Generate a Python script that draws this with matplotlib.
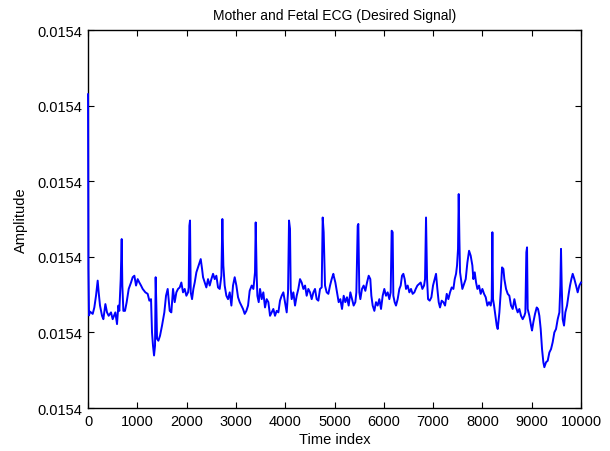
import matplotlib
matplotlib.use("Agg")
import matplotlib.pyplot as plt
from matplotlib.ticker import FixedLocator, FuncFormatter

# Time index of read-off points
time_index = [
    0, 8, 20, 40, 95, 128, 162, 196, 216, 243, 284, 311, 352, 385, 419, 466, 500, 554, 588, 615,
    635, 663, 683, 696, 717, 750, 784, 825, 872, 906, 940, 974, 1007, 1041, 1075, 1109, 1163, 1210,
    1244, 1278, 1298, 1318, 1339, 1359, 1372, 1386, 1400, 1427, 1460, 1501, 1548, 1582, 1616,
    1657, 1690, 1724, 1758, 1792, 1826, 1860, 1893, 1927, 1961, 1995, 2029, 2042, 2056, 2069, 2083,
    2110, 2137, 2164, 2198, 2231, 2265, 2286, 2313, 2333, 2367, 2400, 2434, 2468, 2502, 2536, 2570,
    2603, 2637, 2671, 2705, 2725, 2745, 2772, 2806, 2840, 2874, 2908, 2941, 2975, 3009, 3043, 3077,
    3110, 3144, 3178, 3212, 3246, 3279,
    3320, 3354, 3387, 3401, 3421, 3435, 3462, 3489, 3523, 3556, 3590, 3624, 3658, 3692, 3725, 3759,
    3793, 3827, 3861, 3894, 3928, 3962, 3996, 4030, 4057, 4077, 4097, 4111, 4131, 4165, 4199, 4233,
    4266, 4300, 4334, 4368, 4402, 4435, 4469, 4503, 4537, 4571, 4604, 4638, 4672, 4706, 4740, 4760,
    4780, 4807, 4841, 4875, 4909, 4942, 4976,
    4983, 5017, 5050, 5084, 5118, 5152, 5186, 5219, 5253, 5287, 5321, 5355, 5388, 5422, 5443, 5470,
    5483, 5503, 5524, 5557, 5591, 5625, 5659, 5693, 5726, 5747, 5774, 5808, 5841, 5875, 5909, 5943,
    5977, 6010, 6044, 6078, 6112, 6139, 6159, 6179, 6193, 6220, 6247, 6281, 6315, 6342, 6369, 6396,
    6423, 6450, 6484, 6518, 6551, 6585, 6619,
    6647, 6681, 6714, 6748, 6782, 6816, 6836, 6856, 6877, 6897, 6931, 6965, 6998, 7032, 7059, 7086,
    7113, 7140, 7174, 7208, 7242, 7276, 7309, 7343, 7377, 7411, 7438, 7465, 7485, 7505, 7519, 7533,
    7546, 7566, 7593, 7627, 7661, 7695, 7729, 7762, 7796, 7816, 7844, 7871, 7898, 7931, 7965, 7999,
    8033, 8067, 8100, 8134, 8168, 8188, 8202, 8215, 8236, 8263, 8290,
    8310, 8344, 8371, 8398, 8425, 8445, 8479, 8513, 8546, 8580, 8614, 8648, 8682, 8715, 8749, 8783,
    8817, 8851, 8871, 8891, 8905, 8918, 8952, 8986, 9006, 9033, 9067, 9101, 9128, 9155, 9182, 9209,
    9236, 9256, 9290, 9324, 9358, 9392, 9425, 9459, 9493, 9527, 9561, 9581, 9594, 9608, 9628, 9655,
    9682, 9716, 9750, 9777, 9804, 9831, 9865, 9899, 9932, 9966, 9999,
]

# Amplitude, in steps of 1e-10 above 0.0154
amplitude_steps = [
    8.30, 3.70, 2.45, 2.55, 2.49, 2.66, 2.97, 3.37, 3.06, 2.71, 2.44, 2.35, 2.75, 2.53, 2.44, 2.53, 2.35, 2.53, 2.22, 2.71,
    2.57, 3.41, 4.47, 3.24, 2.57, 2.57, 2.80, 3.15, 3.32, 3.46, 3.50, 3.24, 3.41, 3.32, 3.24, 3.15, 3.06, 3.02,
    2.84, 2.88, 2.00, 1.65, 1.39, 1.65, 3.46, 2.71, 1.83, 1.78, 1.91, 2.18, 2.53, 2.97, 3.15,
    2.57, 2.53, 3.15, 2.80, 3.06, 3.15, 3.19, 3.32, 3.06, 3.15, 2.97, 3.06, 3.19, 4.82, 4.96, 3.06,
    2.88, 3.15, 3.32, 3.59, 3.72, 3.85, 3.94, 3.68, 3.46, 3.32, 3.19, 3.41, 3.24, 3.41, 3.55, 3.41,
    3.50, 3.19, 3.15, 3.50, 5.00, 3.77, 3.24, 2.97, 2.88, 3.06, 2.71, 3.24, 3.46, 3.24, 2.93, 2.80,
    2.71, 2.62, 2.49, 2.57, 2.71, 3.10,
    3.24, 3.15, 3.59, 4.91, 3.50, 2.97, 2.80, 3.15, 2.88, 3.06, 2.66, 2.88, 2.80, 2.44, 2.53, 2.62,
    2.44, 2.57, 2.53, 2.84, 2.97, 3.06, 2.80, 2.53, 3.06, 4.96, 4.74, 3.15, 2.88, 3.06, 2.71, 2.97,
    3.15, 3.41, 3.32, 3.15, 3.24, 2.97, 3.15, 3.06, 2.88, 3.06, 3.15, 2.88, 2.84, 3.15, 3.19, 5.04,
    4.65, 3.24, 3.06, 3.02, 3.24, 3.41, 3.55,
    3.50, 3.32, 3.06, 2.80, 2.88, 2.62, 2.97, 2.80, 2.93, 2.71, 3.06, 2.88, 2.71, 2.80, 3.06, 4.82,
    4.87, 3.06, 2.88, 3.15, 3.24, 3.10, 3.32, 3.50, 3.41, 2.97, 2.71, 2.57, 2.80, 2.71, 2.88, 2.62,
    2.97, 3.15, 2.97, 3.06, 2.88, 3.06, 4.69, 4.65, 2.97, 2.80, 2.71, 2.88, 3.15, 3.24, 3.50, 3.55,
    3.41, 3.15, 3.24, 3.06, 3.15, 3.02, 3.06,
    3.15, 3.24, 3.28, 3.32, 3.15, 3.24, 3.41, 5.04, 3.41, 2.88, 2.84, 2.93, 3.24, 3.41, 3.55, 3.15,
    2.80, 2.66, 2.84, 2.80, 2.71, 3.02, 2.88, 3.06, 3.19, 3.15, 3.41, 3.55, 3.77, 4.21, 5.66, 4.47,
    3.59, 3.41, 3.15, 3.28, 3.41, 3.85, 4.16, 4.03, 3.77, 3.41, 3.59, 3.32, 3.15, 3.24, 3.02, 3.15,
    3.02, 2.93, 2.71, 2.80, 2.71, 2.88, 4.65, 2.88, 2.71, 2.44, 2.18,
    2.09, 2.53, 3.06, 3.72, 3.68, 3.41, 3.15, 3.02, 2.97, 2.71, 2.62, 2.88, 2.66, 2.53, 2.62, 2.44,
    2.35, 2.44, 2.53, 4.12, 4.25, 2.62, 2.44, 2.18, 2.05, 2.27, 2.49, 2.66, 2.62, 2.44, 2.09, 1.56,
    1.21, 1.08, 1.21, 1.25, 1.47, 1.56, 1.74, 2.00, 2.09, 2.35, 2.53, 3.24, 4.21, 3.24, 2.35, 2.18,
    2.53, 2.71, 3.02, 3.24, 3.41, 3.55, 3.41, 3.24, 3.06, 3.24, 3.32,
]

BASE = 0.0154
STEP = 1e-10
x_ticks = [0, 1000, 2000, 3000, 4000, 5000, 6000, 7000, 8000, 9000, 10000]
y_tick_steps = [0, 2, 4, 6, 8, 10]

plt.rcParams['font.family'] = ['Liberation Sans', 'DejaVu Sans']

fig = plt.figure(figsize=(6.10, 4.52), dpi=100)
ax = fig.add_axes([0.1443, 0.0951, 0.8082, 0.8363])

amps = [BASE + v * STEP for v in amplitude_steps]
ax.plot(time_index, amps, color=(0, 0, 1), linewidth=1.4, zorder=3, clip_on=False)

ax.set_xlim(0, 10000)
ax.set_ylim(BASE, BASE + 10 * STEP)
ax.xaxis.set_major_locator(FixedLocator(x_ticks))
ax.yaxis.set_major_locator(FixedLocator([BASE + s * STEP for s in y_tick_steps]))
ax.yaxis.set_major_formatter(FuncFormatter(lambda v, p: f"{v:.4f}"))

ax.tick_params(direction='in', length=4, width=0.8, top=True, right=True,
               labelsize=10.5, pad=4, colors='black')
for s in ax.spines.values():
    s.set_linewidth(1.0)
    s.set_color('black')

ax.set_title('Mother and Fetal ECG (Desired Signal)', fontsize=10, pad=8)
ax.set_xlabel('Time index', fontsize=10.5, labelpad=3)
ax.set_ylabel('Amplitude', fontsize=10.5, labelpad=7)

fig.savefig('out.png', dpi=100, facecolor='white')
